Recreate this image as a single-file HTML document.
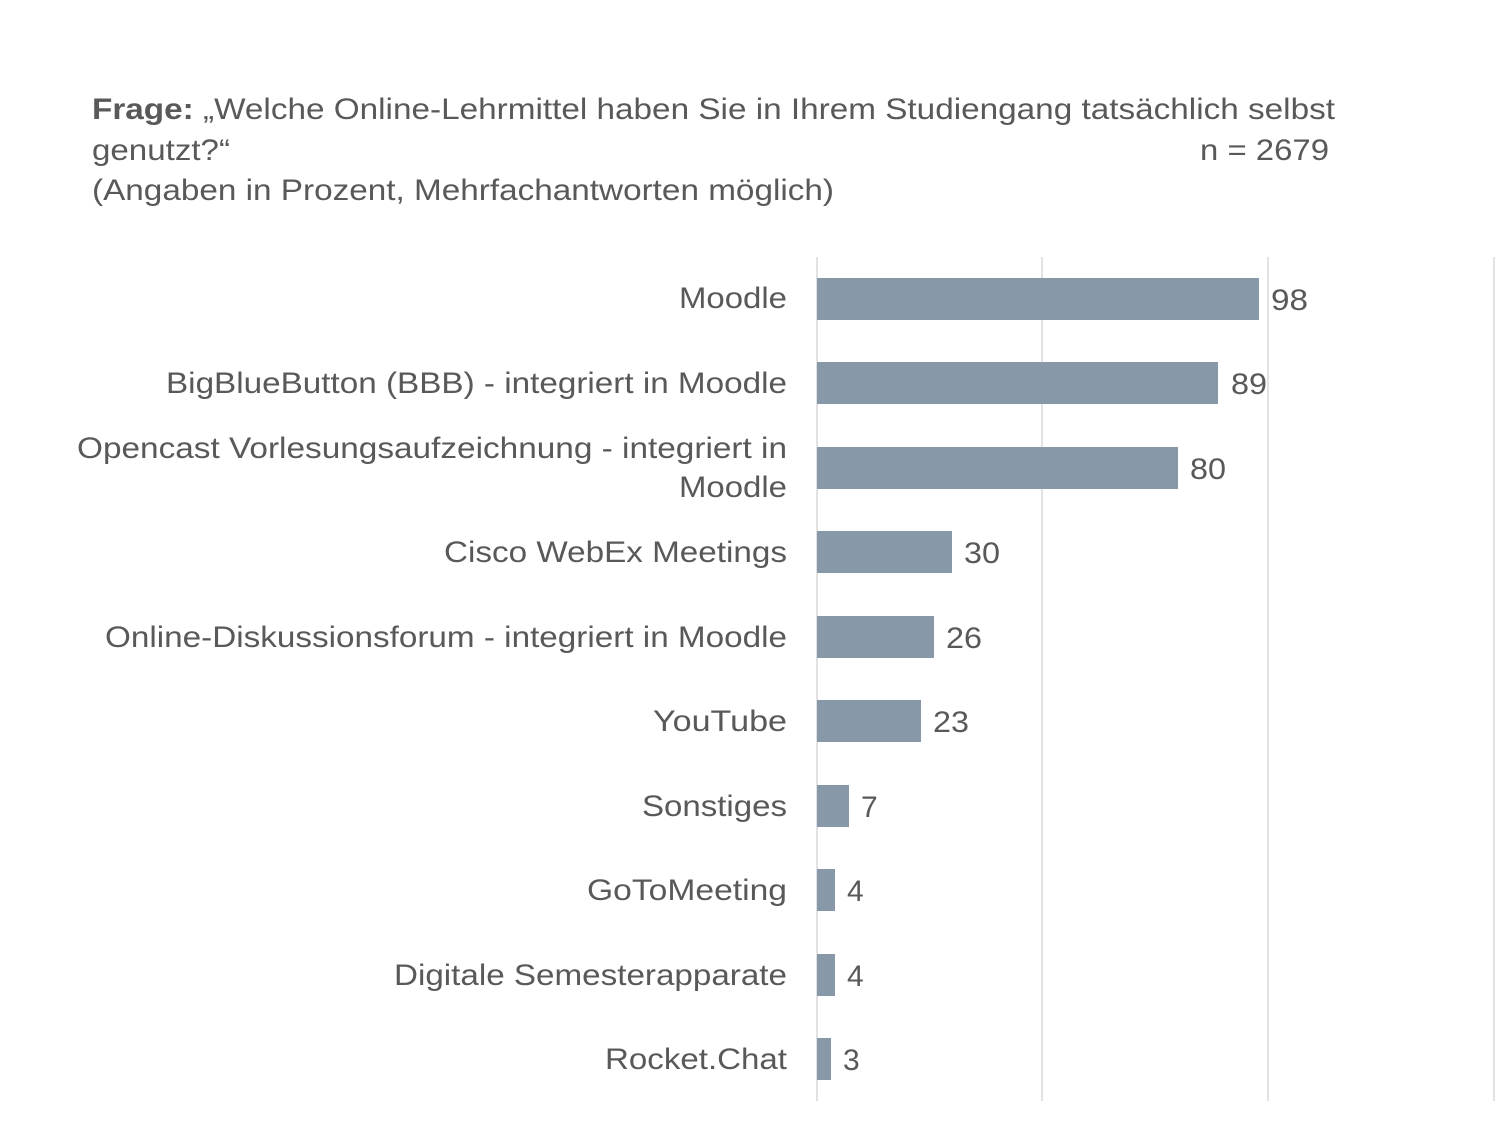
<!DOCTYPE html>
<html><head><meta charset="utf-8"><style>
body{margin:0;background:#fff;}
svg text{font-family:"Liberation Sans",Arial,sans-serif;fill:#595959;}
</style></head><body>
<svg width="1500" height="1125" xmlns="http://www.w3.org/2000/svg">
<rect width="1500" height="1125" fill="#fff"/>
<g font-size="30" lengthAdjust="spacingAndGlyphs">
<text x="92" y="119" textLength="1243" lengthAdjust="spacingAndGlyphs"><tspan font-weight="bold">Frage:</tspan> „Welche Online-Lehrmittel haben Sie in Ihrem Studiengang tatsächlich selbst</text>
<text x="92" y="160" textLength="138" lengthAdjust="spacingAndGlyphs">genutzt?“</text>
<text x="1200" y="160" textLength="129" lengthAdjust="spacingAndGlyphs">n = 2679</text>
<text x="92" y="200" textLength="742" lengthAdjust="spacingAndGlyphs">(Angaben in Prozent, Mehrfachantworten möglich)</text>
</g>
<g stroke="#d9d9d9" stroke-width="1.5">
<line x1="817" y1="257" x2="817" y2="1101"/>
<line x1="1042" y1="257" x2="1042" y2="1101"/>
<line x1="1268" y1="257" x2="1268" y2="1101"/>
<line x1="1494" y1="257" x2="1494" y2="1101"/>
</g>
<g fill="#8799a8">
<rect x="817" y="278" width="442" height="42"/>
<rect x="817" y="362" width="401" height="42"/>
<rect x="817" y="447" width="361" height="42"/>
<rect x="817" y="531" width="135" height="42"/>
<rect x="817" y="616" width="117" height="42"/>
<rect x="817" y="700" width="104" height="42"/>
<rect x="817" y="785" width="32" height="42"/>
<rect x="817" y="869" width="18" height="42"/>
<rect x="817" y="954" width="18" height="42"/>
<rect x="817" y="1038" width="14" height="42"/>
</g>
<g font-size="30">
<text x="1271" y="310" textLength="37" lengthAdjust="spacingAndGlyphs">98</text>
<text x="1231" y="394" textLength="36" lengthAdjust="spacingAndGlyphs">89</text>
<text x="1190" y="479" textLength="36" lengthAdjust="spacingAndGlyphs">80</text>
<text x="964" y="563" textLength="36" lengthAdjust="spacingAndGlyphs">30</text>
<text x="946" y="648" textLength="36" lengthAdjust="spacingAndGlyphs">26</text>
<text x="933" y="732" textLength="36" lengthAdjust="spacingAndGlyphs">23</text>
<text x="861" y="817">7</text>
<text x="847" y="901">4</text>
<text x="847" y="986">4</text>
<text x="843" y="1070">3</text>
</g>
<g font-size="30">
<text x="679" y="308" textLength="108" lengthAdjust="spacingAndGlyphs">Moodle</text>
<text x="166" y="393" textLength="621" lengthAdjust="spacingAndGlyphs">BigBlueButton (BBB) - integriert in Moodle</text>
<text x="77" y="458" textLength="710" lengthAdjust="spacingAndGlyphs">Opencast Vorlesungsaufzeichnung - integriert in</text>
<text x="679" y="497" textLength="108" lengthAdjust="spacingAndGlyphs">Moodle</text>
<text x="444" y="562" textLength="343" lengthAdjust="spacingAndGlyphs">Cisco WebEx Meetings</text>
<text x="105" y="647" textLength="682" lengthAdjust="spacingAndGlyphs">Online-Diskussionsforum - integriert in Moodle</text>
<text x="653" y="731" textLength="134" lengthAdjust="spacingAndGlyphs">YouTube</text>
<text x="642" y="816" textLength="145" lengthAdjust="spacingAndGlyphs">Sonstiges</text>
<text x="587" y="900" textLength="200" lengthAdjust="spacingAndGlyphs">GoToMeeting</text>
<text x="394" y="985" textLength="393" lengthAdjust="spacingAndGlyphs">Digitale Semesterapparate</text>
<text x="605" y="1069" textLength="182" lengthAdjust="spacingAndGlyphs">Rocket.Chat</text>
</g>
</svg>
</body></html>
